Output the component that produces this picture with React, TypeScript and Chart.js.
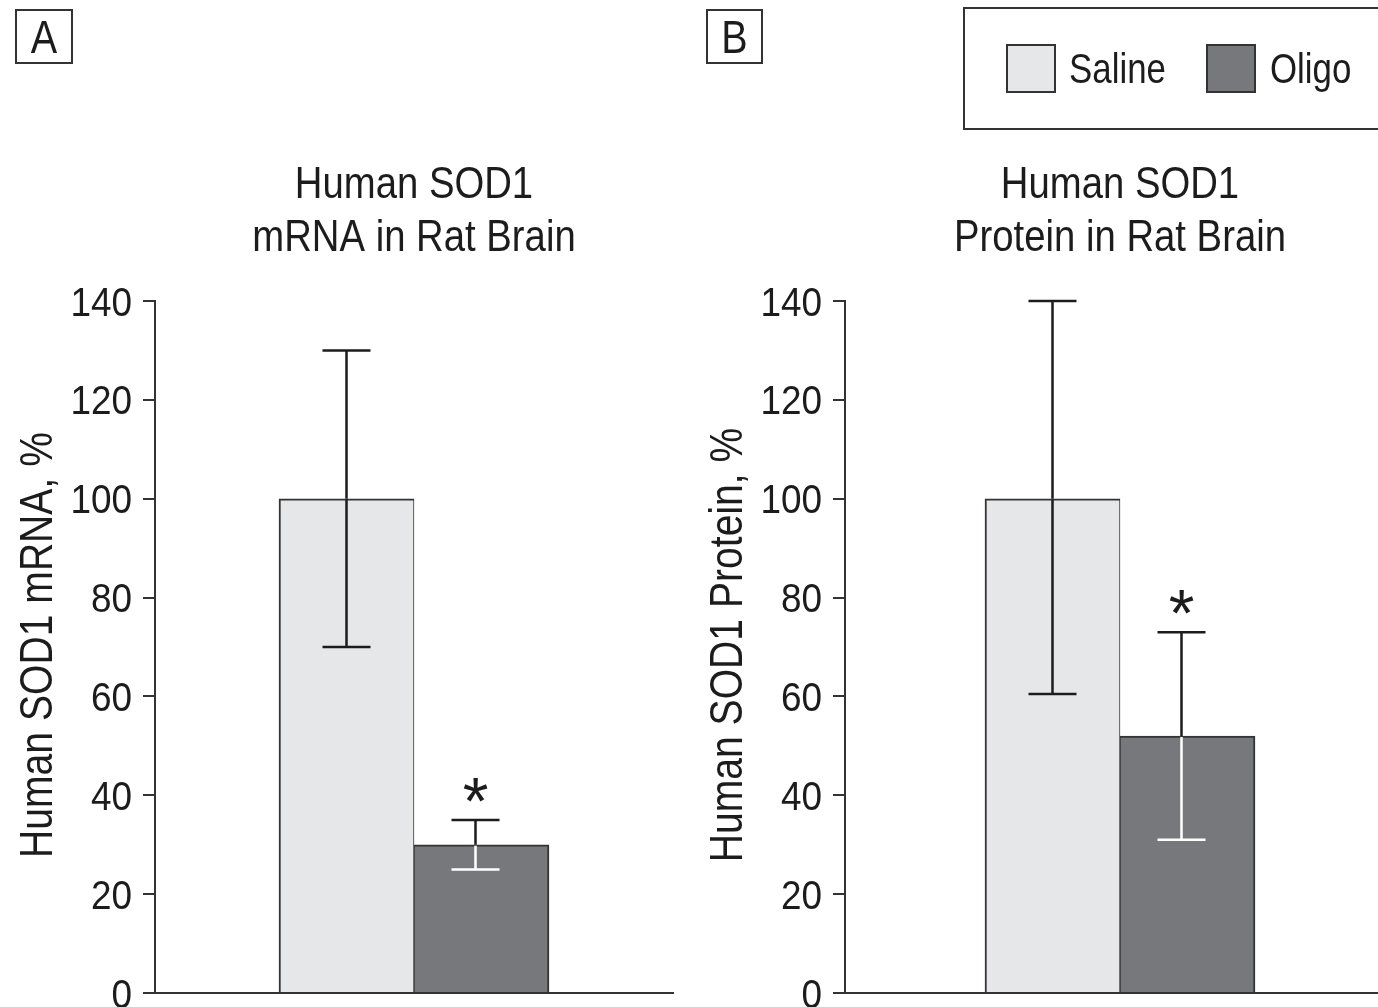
import { useEffect, useRef } from "react";
import { Chart, registerables } from "chart.js";

Chart.register(...registerables);

const FONT = '"Liberation Sans", Arial, sans-serif';
const INK = "#1c1c1c";
const LINE = "#333333";

// Treatment groups
const seriesNames = ["Saline", "Oligo"];
const seriesFills = ["#e6e7e9", "#76787b"];
const innerWhiskerColors = [INK, "#ffffff"];
const whiskerOffsets = [0, -6];
const seriesBorders = [
  { top: 2, left: 2, right: 1, bottom: 0 },
  { top: 2, left: 1, right: 2, bottom: 0 },
];

// Panel A: human SOD1 mRNA (% of saline), mean with error range
const mrnaMean = [100, 30];
const mrnaLow = [70, 25];
const mrnaHigh = [130, 35];

// Panel B: human SOD1 protein (% of saline), mean with error range
const proteinMean = [100, 52];
const proteinLow = [60.5, 31];
const proteinHigh = [140, 73];

const significant = [false, true];
const yTicks = [0, 20, 40, 60, 80, 100, 120, 140];

const H = 1007;

type Panel = {
  letter: string;
  left: number;
  width: number;
  axisWidth: number;
  padRight: number;
  letterBox: [number, number, number, number];
  titleLines: string[];
  yTitle: string;
  yTitleX: number;
  mean: number[];
  low: number[];
  high: number[];
  legend: boolean;
};

const panels: Panel[] = [
  {
    letter: "A",
    left: 0,
    width: 690,
    axisWidth: 155,
    padRight: 17,
    letterBox: [16, 10, 56, 53],
    titleLines: ["Human SOD1", "mRNA in Rat Brain"],
    yTitle: "Human SOD1 mRNA, %",
    yTitleX: 52,
    mean: mrnaMean,
    low: mrnaLow,
    high: mrnaHigh,
    legend: false,
  },
  {
    letter: "B",
    left: 690,
    width: 720,
    axisWidth: 155,
    padRight: 15,
    letterBox: [17, 10, 55, 53],
    titleLines: ["Human SOD1", "Protein in Rat Brain"],
    yTitle: "Human SOD1 Protein, %",
    yTitleX: 52,
    mean: proteinMean,
    low: proteinLow,
    high: proteinHigh,
    legend: true,
  },
];

// Condensed lettering: a regular sans face squeezed horizontally.
function narrowText(
  ctx: CanvasRenderingContext2D,
  text: string,
  x: number,
  y: number,
  size: number,
  align: CanvasTextAlign,
  squeeze: number,
  rotate = 0
) {
  ctx.save();
  ctx.translate(x, y);
  if (rotate) ctx.rotate(rotate);
  ctx.scale(squeeze, 1);
  ctx.font = `${size}px ${FONT}`;
  ctx.textAlign = align;
  ctx.textBaseline = "alphabetic";
  ctx.fillStyle = INK;
  ctx.fillText(text, 0, 0);
  ctx.restore();
}

function makeDecorPlugin(panel: Panel) {
  return {
    id: "panelDecor",
    afterDatasetsDraw(chart: any) {
      const ctx = chart.ctx as CanvasRenderingContext2D;
      const y = chart.scales.y;
      const capHalf = 24;
      panel.mean.forEach((m, i) => {
        const bar = chart.getDatasetMeta(i).data[0];
        const x = bar.x + whiskerOffsets[i];
        const top = y.getPixelForValue(m);
        const hi = y.getPixelForValue(panel.high[i]);
        const lo = y.getPixelForValue(panel.low[i]);
        ctx.save();
        ctx.lineWidth = 2.5;
        ctx.lineCap = "butt";
        // upper whisker
        ctx.strokeStyle = INK;
        ctx.beginPath();
        ctx.moveTo(x, top);
        ctx.lineTo(x, hi);
        ctx.moveTo(x - capHalf, hi);
        ctx.lineTo(x + capHalf, hi);
        ctx.stroke();
        // lower whisker, drawn over the bar fill
        ctx.strokeStyle = innerWhiskerColors[i];
        ctx.beginPath();
        ctx.moveTo(x, top + 1);
        ctx.lineTo(x, lo);
        ctx.moveTo(x - capHalf, lo);
        ctx.lineTo(x + capHalf, lo);
        ctx.stroke();
        if (significant[i]) {
          ctx.font = `66px ${FONT}`;
          ctx.fillStyle = INK;
          ctx.textAlign = "center";
          ctx.textBaseline = "alphabetic";
          const mt = ctx.measureText("*");
          const centerY = hi - 30;
          const base = centerY + (mt.actualBoundingBoxAscent - mt.actualBoundingBoxDescent) / 2;
          ctx.fillText("*", x, base);
        }
        ctx.restore();
      });
    },
    afterDraw(chart: any) {
      const ctx = chart.ctx as CanvasRenderingContext2D;
      const area = chart.chartArea;
      const y = chart.scales.y;
      const cx = (area.left + area.right) / 2;
      ctx.save();
      // y tick labels
      yTicks.forEach((v) => {
        const py = y.getPixelForValue(v);
        narrowText(ctx, String(v), area.left - 23, py + 14.5, 41, "right", 0.9);
      });
      // y axis title
      narrowText(ctx, panel.yTitle, panel.yTitleX, (area.top + area.bottom) / 2 - 2, 46, "center", 0.85, -Math.PI / 2);
      // panel title
      narrowText(ctx, panel.titleLines[0], cx, 198, 44, "center", 0.87);
      narrowText(ctx, panel.titleLines[1], cx, 251, 44, "center", 0.87);
      // panel letter in a box
      const [bx, by, bw, bh] = panel.letterBox;
      ctx.strokeStyle = LINE;
      ctx.lineWidth = 2;
      ctx.strokeRect(bx, by, bw, bh);
      narrowText(ctx, panel.letter, bx + bw / 2, by + bh - 10, 46, "center", 0.86);
      // legend
      if (panel.legend) {
        ctx.lineWidth = 2;
        ctx.strokeStyle = LINE;
        ctx.strokeRect(274, 8, 520, 121);
        const swX = [317, 517];
        const txX = [379, 580];
        seriesNames.forEach((name, i) => {
          ctx.fillStyle = seriesFills[i];
          ctx.fillRect(swX[i], 45, 48, 47);
          ctx.strokeStyle = LINE;
          ctx.lineWidth = 2;
          ctx.strokeRect(swX[i], 45, 48, 47);
          narrowText(ctx, name, txX[i], 83, 42, "left", 0.83);
        });
      }
      ctx.restore();
    },
  };
}

function PanelChart({ panel }: { panel: Panel }) {
  const ref = useRef<HTMLCanvasElement>(null);
  useEffect(() => {
    const chart = new Chart(ref.current as HTMLCanvasElement, {
      type: "bar",
      data: {
        labels: [""],
        datasets: seriesNames.map((name, i) => ({
          label: name,
          data: [panel.mean[i]],
          backgroundColor: seriesFills[i],
          borderColor: LINE,
          borderWidth: seriesBorders[i],
          borderSkipped: false,
          barThickness: 135,
        })),
      },
      options: {
        animation: false,
        responsive: false,
        maintainAspectRatio: false,
        events: [],
        layout: { padding: { top: 301, right: panel.padRight, bottom: 0, left: 0 } },
        plugins: {
          legend: { display: false },
          tooltip: { enabled: false },
          title: { display: false },
        },
        scales: {
          x: {
            type: "category",
            grid: { display: false },
            ticks: { display: false },
            border: { display: true, color: LINE, width: 2 },
            afterFit: (s: any) => {
              s.height = 14;
            },
          },
          y: {
            min: 0,
            max: 140,
            afterBuildTicks: (s: any) => {
              s.ticks = yTicks.map((v) => ({ value: v }));
            },
            afterFit: (s: any) => {
              s.width = panel.axisWidth;
              s.paddingTop = 0;
              s.paddingBottom = 0;
            },
            ticks: { display: false },
            grid: {
              drawOnChartArea: false,
              drawTicks: true,
              tickLength: 12,
              color: LINE,
              lineWidth: 2,
            },
            border: { display: true, color: LINE, width: 2 },
            title: { display: false },
          },
        },
      },
      plugins: [makeDecorPlugin(panel)],
    } as any);
    return () => chart.destroy();
  }, [panel]);
  return (
    <canvas
      ref={ref}
      width={panel.width}
      height={H}
      style={{ position: "absolute", left: panel.left, top: 0, width: panel.width, height: H }}
    />
  );
}

export default function App() {
  return (
    <div
      style={{
        position: "fixed",
        left: 0,
        top: 0,
        width: 1378,
        height: H,
        overflow: "hidden",
        background: "#ffffff",
      }}
    >
      {panels.map((p) => (
        <PanelChart key={p.letter} panel={p} />
      ))}
    </div>
  );
}
